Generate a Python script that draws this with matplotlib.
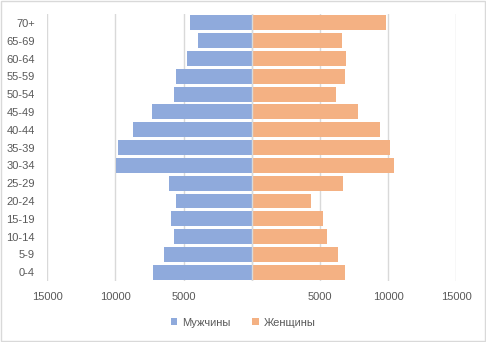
import numpy as np
import matplotlib.pyplot as plt
from matplotlib.patches import Rectangle
from matplotlib.ticker import FuncFormatter

plt.rcParams['font.family'] = ['Liberation Sans', 'DejaVu Sans']

age_groups = ['0-4', '5-9', '10-14', '15-19', '20-24', '25-29', '30-34', '35-39',
              '40-44', '45-49', '50-54', '55-59', '60-64', '65-69', '70+']
male = [7270, 6460, 5730, 5950, 5585, 6100, 9975, 9830,
        8730, 7340, 5730, 5585, 4780, 3975, 4560]
female = [6860, 6350, 5540, 5250, 4370, 6710, 10445, 10150,
          9420, 7810, 6200, 6860, 6930, 6640, 9860]
xticks = [-15000, -10000, -5000, 0, 5000, 10000, 15000]

blue = '#8FAADC'
orange = '#F4B183'
grey = '#595959'

fig = plt.figure(figsize=(4.86, 3.42), dpi=100)
ax = fig.add_axes([0.0973, 0.178, 0.8416, 0.781])

y = np.arange(len(age_groups))
ax.barh(y, -np.array(male), height=0.84, color=blue, label='Мужчины', zorder=2)
ax.barh(y, female, height=0.84, color=orange, label='Женщины', zorder=2)

ax.set_xlim(-15000, 15000)
ax.set_ylim(-0.5, len(age_groups) - 0.5)
ax.set_xticks(xticks)
ax.xaxis.set_major_formatter(FuncFormatter(lambda v, p: '' if v == 0 else f'{abs(int(v))}'))
ax.set_yticks(y)
ax.set_yticklabels(age_groups)
ax.grid(axis='x', color='#D9D9D9', linewidth=1, zorder=0)
ax.axvline(0, color='#D9D9D9', linewidth=1, zorder=3)
for s in ax.spines.values():
    s.set_visible(False)
ax.tick_params(axis='both', length=0, colors=grey, labelsize=8)
ax.tick_params(axis='y', pad=9)
ax.tick_params(axis='x', pad=8)

leg = fig.legend(loc='center', bbox_to_anchor=(0.5, 0.056), ncol=2, frameon=False,
                 fontsize=8, handlelength=0.6, handleheight=0.6, columnspacing=2.0,
                 handletextpad=0.4)
for t in leg.get_texts():
    t.set_color(grey)

fig.patches.append(Rectangle((0.002, 0.003), 0.996, 0.994, transform=fig.transFigure,
                             fill=False, edgecolor='#D9D9D9', linewidth=1))

fig.savefig('out.png', dpi=100)
